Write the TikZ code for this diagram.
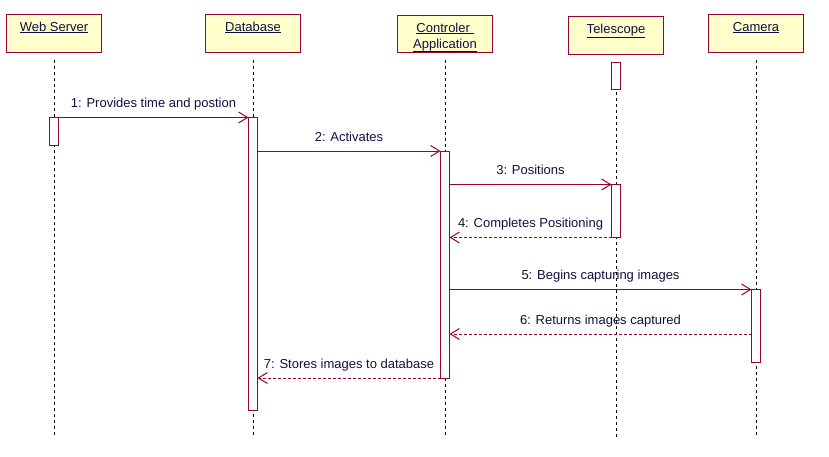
\documentclass[tikz,border=0pt]{standalone}
\usepackage{fontspec}
\setmainfont{Liberation Sans}
\definecolor{umlred}{RGB}{153,0,51}
\definecolor{umlfill}{RGB}{255,255,204}
\definecolor{umltext}{RGB}{16,16,64}
\usetikzlibrary{arrows.meta,positioning}

\begin{document}
\begin{tikzpicture}[
    x=1pt, y=-1pt,
    font=\fontsize{13}{16.5}\selectfont,
    obj/.style={rectangle, draw=umlred, fill=umlfill, line width=1pt, minimum width=95pt, minimum height=37pt, align=center, text=umltext, inner sep=0pt, outer sep=0pt},
    act/.style={rectangle, draw=umlred, fill=white, line width=1pt, minimum width=9pt, inner sep=0pt, outer sep=0pt},
    life/.style={dash pattern=on 3pt off 3pt, line width=1pt},
    msg/.style={-{Straight Barb[length=9pt,width=11pt]}, draw=umlred, line width=1pt},
    reply/.style={msg, dash pattern=on 3pt off 2pt},
    lbl/.style={midway, above=5pt, inner sep=1pt, text=umltext, text depth=3pt}
]
\useasboundingbox (0,0) rectangle (829,456);

% objects
\node[obj] (ws) at (54,33.5) {\rule{0pt}{16.5pt}\underline{Web Server}\\\strut};
\node[obj, right=104pt of ws] (db) {\rule{0pt}{16.5pt}\underline{Database}\\\strut};
\node[obj, right=97pt of db] (ctrl) {\rule{0pt}{16.5pt}\underline{Controler\ }\\\underline{\raisebox{0pt}[\height][1pt]{Application}}};
\node[obj, right=76pt of ctrl, yshift=-2pt] (tel) {\rule{0pt}{16.5pt}\underline{Telescope}\\\strut};
\node[obj, right=45pt of tel, yshift=2pt] (cam) {\rule{0pt}{16.5pt}\underline{Camera}\\\strut};

% lifelines
\coordinate (bot) at (0,438);
\foreach \o in {ws,db,ctrl,tel,cam}
    \draw[life] ([yshift=-8pt]\o.south) -- (\o.south |- bot);

% activations
\node[act, below=65pt of ws, minimum height=28pt] (wsact) {};
\node[act, below=65pt of db, minimum height=293pt] (dbact) {};
\node[act, below=99pt of ctrl, minimum height=227pt] (ctrlact) {};
\node[act, below=8pt of tel, minimum height=27pt] (telact) {};
\node[act, below=130pt of tel, minimum height=53pt] (telpos) {};
\node[act, below=237pt of cam, minimum height=73pt] (camact) {};

% messages
\coordinate (ret6) at (0,334);
\draw[msg] (wsact.north east) -- node[lbl] {1: Provides time and postion} (dbact.north west);
\draw[msg] (dbact.east |- ctrlact.north) -- node[lbl] {2: Activates} (ctrlact.north west);
\draw[msg] (ctrlact.east |- telpos.north) -- node[lbl] {3: Positions} (telpos.north west);
\draw[reply] (telpos.south west) -- node[lbl] {4: Completes Positioning} (ctrlact.east |- telpos.south);
\draw[msg] (ctrlact.east |- camact.north) -- node[lbl] {5: Begins capturing images} (camact.north west);
\draw[reply] (camact.west |- ret6) -- node[lbl] {6: Returns images captured} (ctrlact.east |- ret6);
\draw[reply] (ctrlact.south west) -- node[lbl] {7: Stores images to database} (dbact.east |- ctrlact.south);

\end{tikzpicture}
\end{document}
